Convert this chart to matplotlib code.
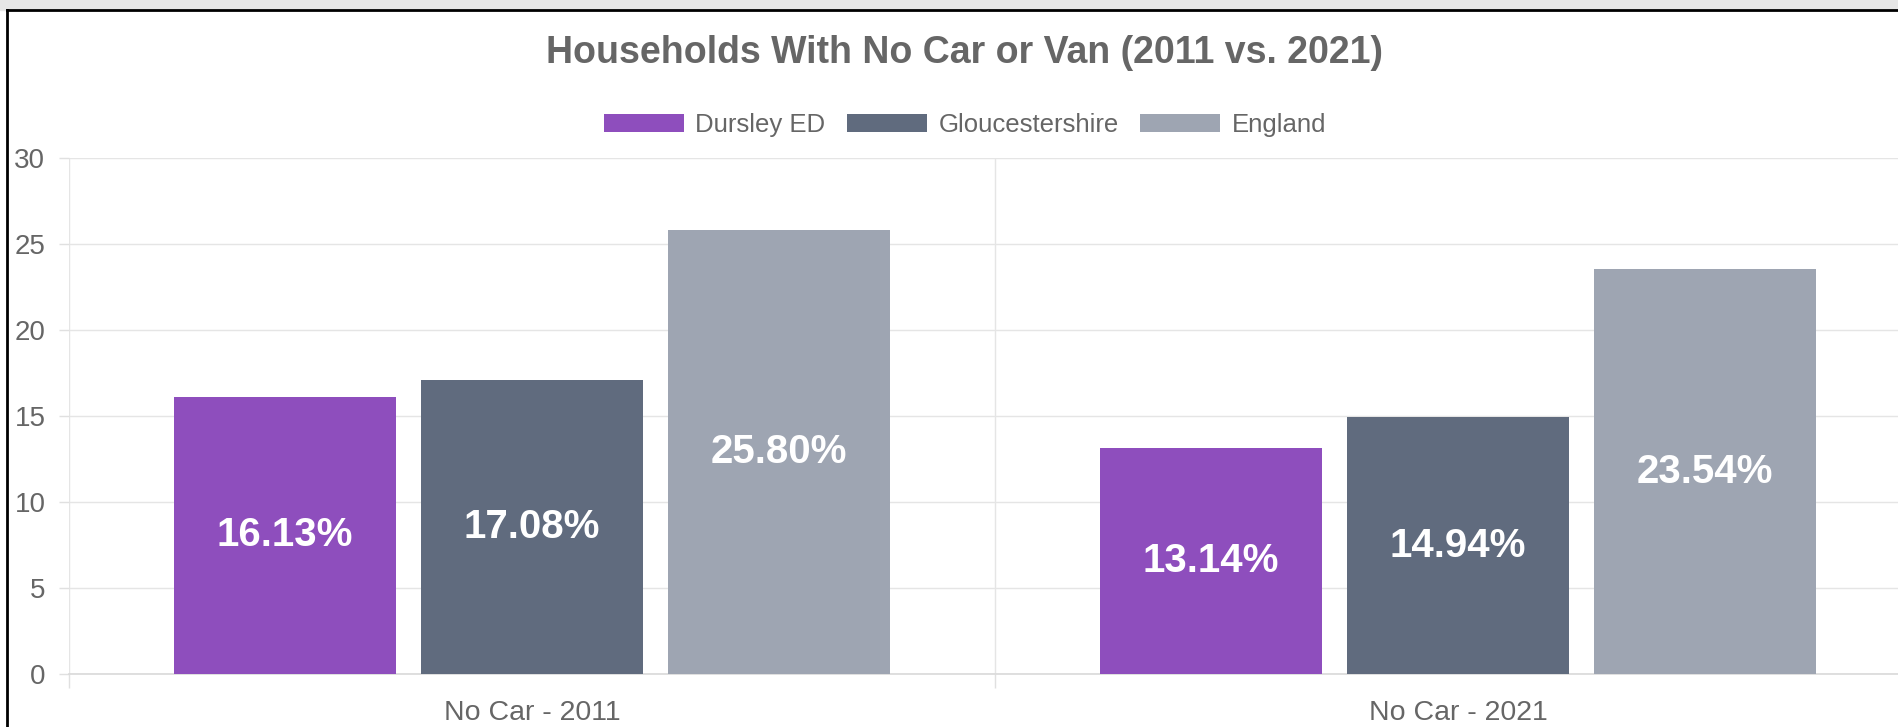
import numpy as np
import matplotlib
matplotlib.use("Agg")
from matplotlib import pyplot as plt
from matplotlib.patches import Rectangle
from matplotlib.lines import Line2D

plt.rcParams['font.family'] = ['Liberation Sans', 'DejaVu Sans']

categories = ['No Car - 2011', 'No Car - 2021']
series_names = ['Dursley ED', 'Gloucestershire', 'England']
dursley = [16.13, 13.14]
gloucs = [17.08, 14.94]
england = [25.80, 23.54]
colors = ['#8e4ebd', '#606b7e', '#9ea5b2']
y_ticks = [0, 5, 10, 15, 20, 25, 30]

W, H = 1898, 727
fig = plt.figure(figsize=(W / 100, H / 100), dpi=100)

# screenshot frame: grey strip on top, black border left/top
fig.add_artist(Rectangle((0, 1 - 10 / H), 1, 10 / H, transform=fig.transFigure,
                         color='#e6e6e6', zorder=0))
fig.add_artist(Line2D([7 / W, 1], [1 - 10 / H, 1 - 10 / H], transform=fig.transFigure,
                      color='black', lw=2))
fig.add_artist(Line2D([7 / W, 7 / W], [0, 1 - 10 / H], transform=fig.transFigure,
                      color='black', lw=2))

# plot area runs past the right edge of the picture
ax = fig.add_axes([69 / W, 53 / H, 1852 / W, 516 / H])

x = np.arange(len(categories))
offsets = [-0.8 / 3, 0, 0.8 / 3]
bar_w = 0.24
for vals, name, col, off in zip([dursley, gloucs, england], series_names, colors, offsets):
    bars = ax.bar(x + off, vals, width=bar_w, color=col, label=name, zorder=3)
    for b, v in zip(bars, vals):
        ax.text(b.get_x() + b.get_width() / 2, v / 2, f'{v:.2f}%', ha='center', va='center',
                color='white', fontsize=29, fontweight='bold', zorder=4)

ax.set_xlim(-0.5, 1.5)
ax.set_ylim(0, 30)
ax.set_yticks(y_ticks)
ax.set_xticks([-0.5, 0.5, 1.5])
ax.set_xticks(x, minor=True)
ax.set_xticklabels(categories, minor=True)
ax.tick_params(axis='x', which='major', labelbottom=False, length=10, color='#e0e0e0', width=1)
ax.tick_params(axis='x', which='minor', length=0, pad=19, labelsize=20.5, labelcolor='#666666')
ax.tick_params(axis='y', length=7, color='#e0e0e0', width=1, pad=10, labelsize=20, labelcolor='#666666')
ax.grid(True, axis='y', color='#e5e5e5', lw=1, zorder=0)
ax.grid(True, axis='x', which='major', color='#e5e5e5', lw=1, zorder=0)
for s in ['top', 'right', 'left']:
    ax.spines[s].set_visible(False)
ax.spines['bottom'].set_color('#d9d9d9')
ax.spines['bottom'].set_linewidth(1.2)

fig.text(965 / W, 1 - 53 / H, 'Households With No Car or Van (2011 vs. 2021)', ha='center', va='center',
         fontsize=27, fontweight='bold', color='#666666')

fig.legend(loc='center', bbox_to_anchor=(965 / W, 1 - 125 / H), ncol=3, frameon=False,
           fontsize=18.5, labelcolor='#666666', handlelength=3.1, handleheight=0.75,
           handletextpad=0.45, columnspacing=0.85)

fig.savefig('out.png', dpi=100)
